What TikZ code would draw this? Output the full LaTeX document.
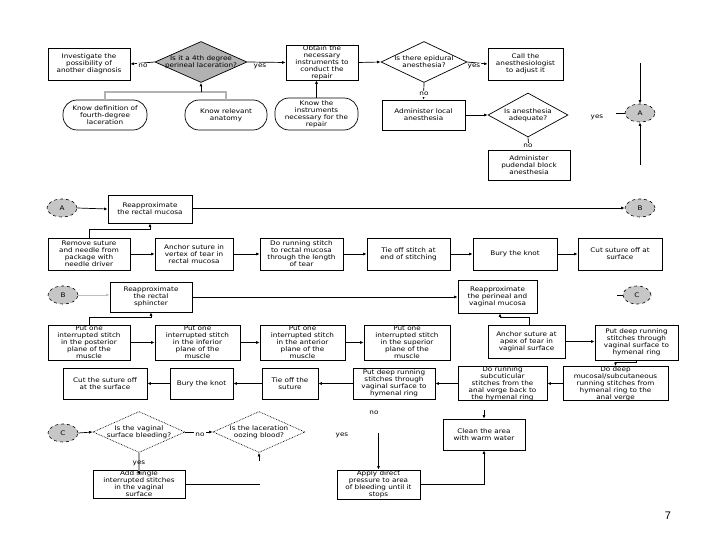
\documentclass[tikz,border=0pt]{standalone}
\usepackage{fontspec}
\newfontfamily\boxfont{DejaVu Sans}[FakeStretch=1.15]
\newfontfamily\pgfont{Liberation Sans}
\usetikzlibrary{shapes.geometric,arrows.meta}
\begin{document}
\begin{tikzpicture}[x=1pt,y=-1pt,
  every node/.style={font=\boxfont\fontsize{6.3}{7}\selectfont},
  box/.style={draw, line width=0.7pt, inner sep=0pt, align=center},
  oval/.style={box, rounded corners=14pt},
  dia/.style={draw, diamond, inner sep=0pt, line width=0.7pt},
  dotdia/.style={dia, densely dotted},
  dtext/.style={align=center, inner sep=0pt},
  conn/.style={draw, ellipse, dashed, fill=gray!45, inner sep=0pt, line width=0.6pt, minimum width=30, minimum height=18},
  arr/.style={-{Latex[length=3.5pt,width=3pt]}, line width=0.7pt},
  ln/.style={line width=0.7pt},
  lbl/.style={fill=white, inner sep=1pt},
  tree/.style={line width=1.1pt, gray!60}
]
\useasboundingbox (0,0) rectangle (720,540);
% ---------- row 1
\node[box,minimum width=82,minimum height=32] (inv) at (89,64) {Investigate the\\possibility of\\another diagnosis};
\node[dia,fill=gray!60,minimum width=92,minimum height=41] (d1) at (201,62) {};
\node[dtext] (d1t) at (d1) {Is it a 4th degree\\perineal laceration?};
\node[box,minimum width=72,minimum height=35] (obtain) at (322,62.5) {Obtain the\\necessary\\instruments to\\conduct the\\repair};
\node[dia,minimum width=86,minimum height=41] (d2) at (424,62) {};
\node[dtext] (d2t) at (d2) {Is there epidural\\anesthesia?};
\node[box,minimum width=75,minimum height=32] (call) at (525.5,64) {Call the\\anesthesiologist\\to adjust it};
\node[oval,minimum width=84,minimum height=30] (kdef) at (105,115) {Know definition of\\fourth-degree\\laceration};
\node[oval,minimum width=82,minimum height=30] (kanat) at (226,115) {Know relevant\\anatomy};
\node[oval,minimum width=83,minimum height=32] (kinst) at (316.5,114) {Know the\\instruments\\necessary for the\\repair};
\node[box,minimum width=83,minimum height=30] (local) at (423.5,115) {Administer local\\anesthesia};
\node[dia,minimum width=80,minimum height=44] (d3) at (528,115) {};
\node[dtext] (d3t) at (d3) {Is anesthesia\\adequate?};
\node[conn] (A1) at (640,113) {A};
\node[box,minimum width=82,minimum height=30] (pud) at (529,165) {Administer\\pudendal block\\anesthesia};

\draw[arr] (d1.west) -- (inv.east);
\node[lbl] (l1) at (143,66) {no};
\draw[arr] (d1.east) -- (obtain.west);
\node[lbl] (l2) at (260,66) {yes};
\draw[arr] (obtain.east) -- (d2.west);
\draw[arr] (d2.east) -- (call.west);
\node[lbl] (l3) at (474,66) {yes};
\draw[arr] (d2.south) -- (local.north);
\node[lbl] (l4) at (424,94) {no};
\draw[arr] (local.east) -- (d3.west);
\draw[arr] (d3.south) -- (pud.north);
\node[lbl] (l5) at (528,146) {no};
\node[lbl] (l6) at (597,117) {yes};
\coordinate (a1w) at (616,113);
\draw[ln] (a1w) -- (A1.west);
\coordinate (a1t) at (640,63);
\draw[arr] (a1t) -- (A1.north);
\coordinate (a1b) at (640,165);
\draw[arr] (a1b) -- (A1.south);
\draw[tree] (kdef.north) -- (105,92) -- (226,92) -- (kanat.north);
\coordinate (tj) at (201,92);
\draw[arr] (tj) -- (d1.south);
\draw[arr] (kinst.north) -- (kinst.north |- obtain.south);

% ---------- row 2
\node[conn] (A2) at (62,208) {A};
\node[box,minimum width=84,minimum height=28] (reap1) at (150,209) {Reapproximate\\the rectal mucosa};
\node[conn] (B1) at (640,208) {B};
\node[box,minimum width=82,minimum height=32] (remove) at (89,254) {Remove suture\\and needle from\\package with\\needle driver};
\node[box,minimum width=78,minimum height=32] (anch1) at (194,254) {Anchor suture in\\vertex of tear in\\rectal mucosa};
\node[box,minimum width=83,minimum height=32] (run) at (301.5,254) {Do running stitch\\to rectal mucosa\\through the length\\of tear};
\node[box,minimum width=83,minimum height=32] (tie1) at (408.5,254) {Tie off stitch at\\end of stitching};
\node[box,minimum width=84,minimum height=32] (bury1) at (515,254) {Bury the knot};
\node[box,minimum width=84,minimum height=32] (cut1) at (620,254) {Cut suture off at\\surface};
\draw[arr] (A2.east) -- (reap1.west);
\draw[arr] (reap1.east |- B1.west) -- (B1.west);
\draw[arr] (remove.north) -- ++(0,-8) -| (reap1.south);
\draw[arr] (remove.east) -- (anch1.west);
\draw[arr] (anch1.east) -- (run.west);
\draw[arr] (run.east) -- (tie1.west);
\draw[arr] (tie1.east) -- (bury1.west);
\draw[arr] (bury1.east) -- (cut1.west);

% ---------- row 3
\node[conn] (B2) at (63,295) {B};
\node[box,minimum width=82,minimum height=30] (sph) at (151,297) {Reapproximate\\the rectal\\sphincter};
\node[box,minimum width=79,minimum height=33] (per) at (497.5,296.5) {Reapproximate\\the perineal and\\vaginal mucosa};
\node[conn,minimum width=28] (C1) at (637,295) {C};
\node[box,minimum width=82,minimum height=35] (post) at (89,342.5) {Put one\\interrupted stitch\\in the posterior\\plane of the\\muscle};
\node[box,minimum width=85,minimum height=35] (inf) at (197.5,342.5) {Put one\\interrupted stitch\\in the inferior\\plane of the\\muscle};
\node[box,minimum width=85,minimum height=35] (ant) at (302.5,342.5) {Put one\\interrupted stitch\\in the anterior\\plane of the\\muscle};
\node[box,minimum width=86,minimum height=35] (sup) at (407,342.5) {Put one\\interrupted stitch\\in the superior\\plane of the\\muscle};
\node[box,minimum width=77,minimum height=33] (anch2) at (526.5,341.5) {Anchor suture at\\apex of tear in\\vaginal surface};
\node[box,minimum width=83,minimum height=35] (pd1) at (636.5,342.5) {Put deep running\\stitches through\\vaginal surface to\\hymenal ring};
\draw[arr, gray!50] (B2.east) -- (sph.west |- B2.east);
\draw[arr] (sph.east) -- (per.west |- sph.east);
\coordinate (c1w) at (617,295);
\draw[ln] (c1w) -- (C1.west);
\draw[arr] (post.north) -- ++(0,-7) -| (sph.south);
\draw[arr] (post.east) -- (inf.west);
\draw[arr] (inf.east) -- (ant.west);
\draw[arr] (ant.east) -- (sup.west);
\draw[arr] ([xshift=3pt]anch2.north) -- ++(0,-7) -| ([xshift=2.5pt]per.south);
\draw[arr] (anch2.east) -- (pd1.west |- anch2.east);

% ---------- row 4
\node[box,minimum width=84,minimum height=31] (cut2) at (105,383.5) {Cut the suture off\\at the surface};
\node[box,minimum width=63,minimum height=31] (bury2) at (201.5,383.5) {Bury the knot};
\node[box,minimum width=56,minimum height=31] (tie2) at (290,383.5) {Tie off the\\suture};
\node[box,minimum width=82,minimum height=31] (pd2) at (394,383.5) {Put deep running\\stitches through\\vaginal surface to\\hymenal ring};
\node[box,minimum width=89,minimum height=33] (sub) at (502.5,383.5) {Do running\\subcuticular\\stitches from the\\anal verge back to\\the hymenal ring};
\node[box,minimum width=105,minimum height=33] (dd) at (615.5,383.5) {Do deep\\mucosal/subcutaneous\\running stitches from\\hymenal ring to the\\anal verge};
\draw[arr] (pd1.south) -- ++(0,2) -| (dd.north);
\draw[arr] (dd.west) -- (sub.east);
\draw[arr] (sub.west) -- (pd2.east);
\draw[arr] (pd2.west) -- (tie2.east);
\draw[arr] (tie2.west) -- (bury2.east);
\draw[arr] (bury2.west) -- (cut2.east);

% ---------- row 5
\node[conn] (C2) at (63,433) {C};
\node[dotdia,minimum width=92,minimum height=41] (dv) at (139,432) {};
\node[dtext] (dvt) at (dv) {Is the vaginal\\surface bleeding?};
\node[dotdia,minimum width=92,minimum height=41] (dl) at (259,432) {};
\node[dtext] (dlt) at (dl) {Is the laceration\\oozing blood?};
\node[box,minimum width=92,minimum height=28] (add) at (139,484) {Add single\\interrupted stitches\\in the vaginal\\surface};
\node[box,minimum width=83,minimum height=29] (apply) at (378.5,484.5) {Apply direct\\pressure to area\\of bleeding until it\\stops};
\node[box,minimum width=82,minimum height=31] (clean) at (484,434.5) {Clean the area\\with warm water};
\draw[arr] (C2.east) -- (dv.west);
\draw[arr] (dv.east) -- (dl.west);
\node[lbl] (l7) at (200,435) {no};
\draw[line width=2pt, gray!70] (dv.south) -- ([yshift=-4pt]add.north);
\draw[arr] ([yshift=-4pt]add.north) -- (add.north);
\node[lbl, fill=none] (l8) at (139,463) {yes};
\coordinate (ae) at (260,484);
\draw[ln] (add.east) -- (ae);
\coordinate (dls) at (259,461);
\draw[arr] (dls) -- (dl.south);
\node[lbl] (l9) at (342,435) {yes};
\node[lbl] (l10) at (374,413) {no};
\coordinate (ys) at (378.5,433);
\draw[arr] (ys) -- (apply.north);
\draw[arr] (apply.east) -| (clean.south);
\coordinate (cl) at (484,410);
\draw[arr] (cl) -- (clean.north);

\node[font=\pgfont\fontsize{11}{13}\selectfont] (pg) at (668,516) {7};
\end{tikzpicture}
\end{document}
